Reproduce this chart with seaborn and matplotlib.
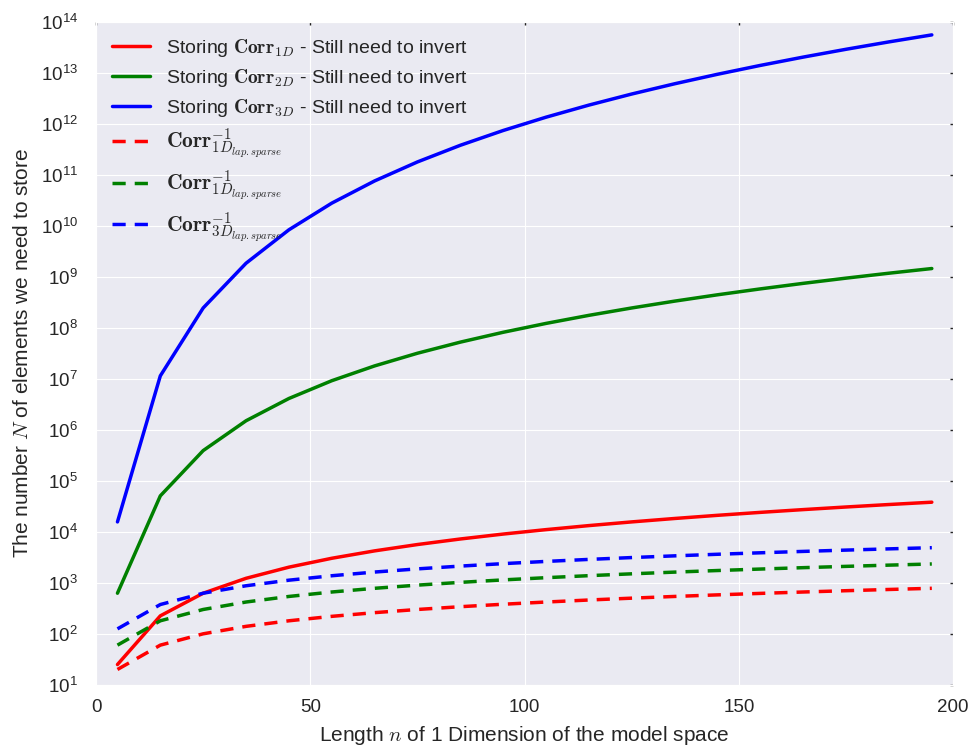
import matplotlib
matplotlib.use("Agg")
import matplotlib.pyplot as plt
import seaborn as sns
import pandas as pd

# Length of one dimension of the model space
n_values = [5, 15, 25, 35, 45, 55, 65, 75, 85, 95, 105, 115, 125, 135, 145,
            155, 165, 175, 185, 195]

# Dense correlation matrices
corr_1d = [25, 225, 625, 1225, 2025, 3025, 4225, 5625, 7225, 9025, 11025,
           13225, 15625, 18225, 21025, 24025, 27225, 30625, 34225, 38025]
corr_2d = [625, 50625, 390625, 1500625, 4100625, 9150625, 17850625, 31640625,
           52200625, 81450625, 121550625, 174900625, 244140625, 332150625,
           442050625, 577200625, 741200625, 937890625, 1171350625, 1445900625]
corr_3d = [1.5625e4, 1.1390625e7, 2.44140625e8, 1.838265625e9, 8.303765625e9,
           2.7680640625e10, 7.5418890625e10, 1.77978515625e11,
           3.77149515625e11, 7.35091890625e11, 1.340095640625e12,
           2.3130e12, 3.8147e12, 6.0535e12, 9.2940e12, 1.3868e13,
           2.0179e13, 2.8723e13, 4.0089e13, 5.4980e13]

# Sparse Laplacian inverses
inv_1d = [20, 60, 100, 140, 180, 220, 260, 300, 340, 380, 420, 460, 500, 540,
          580, 620, 660, 700, 740, 780]
inv_2d = [60, 180, 300, 420, 540, 660, 780, 900, 1020, 1140, 1260, 1380, 1500,
          1620, 1740, 1860, 1980, 2100, 2220, 2340]
inv_3d = [125, 375, 625, 875, 1125, 1375, 1625, 1875, 2125, 2375, 2625, 2875,
          3125, 3375, 3625, 3875, 4125, 4375, 4625, 4875]

labels = [
    r"Storing $\mathbf{Corr}_{1D}$ - Still need to invert",
    r"Storing $\mathbf{Corr}_{2D}$ - Still need to invert",
    r"Storing $\mathbf{Corr}_{3D}$ - Still need to invert",
    r"$\mathbf{Corr}^{-1}_{1D_{lap.sparse}}$",
    r"$\mathbf{Corr}^{-1}_{1D_{lap.sparse}}$",
    r"$\mathbf{Corr}^{-1}_{3D_{lap.sparse}}$",
]
series = [corr_1d, corr_2d, corr_3d, inv_1d, inv_2d, inv_3d]
colors = ["#ff0000", "#008000", "#0000ff", "#ff0000", "#008000", "#0000ff"]
styles = ["-", "-", "-", "--", "--", "--"]
dash_pattern = (3.8, 2.6)  # in units of line width

sns.set_style("darkgrid", {"axes.facecolor": "#EAEAF2",
                           "xtick.direction": "in", "ytick.direction": "in"})
plt.rcParams["font.family"] = ["Liberation Sans", "DejaVu Sans"]
plt.rcParams["mathtext.fontset"] = "cm"

fig = plt.figure(figsize=(9.73, 7.46), dpi=100)
ax = fig.add_axes([0.0987, 0.082, 0.881, 0.889])

for vals, lab, col, ls in zip(series, labels, colors, styles):
    df = pd.DataFrame({"n": n_values, "count": vals})
    sns.lineplot(data=df, x="n", y="count", ax=ax, color=col, linestyle=ls,
                 linewidth=2.5, label=lab)
for line in ax.get_lines():
    if line.get_linestyle() == "--":
        line.set_dashes(dash_pattern)

ax.set_yscale("log")
ax.set_xlim(0, 200)
ax.set_ylim(1e1, 1e14)
ax.set_xticks([0, 50, 100, 150, 200])
ax.set_yticks([10.0 ** k for k in range(1, 15)])
ax.minorticks_off()
ax.tick_params(axis="both", which="major", labelsize=13.5, length=2,
               width=1, color="#222222", top=True, right=True,
               labelcolor="#262626")
ax.tick_params(axis="y", pad=13)
ax.tick_params(axis="x", pad=10)
ax.set_xlabel(r"Length $n$ of 1 Dimension of the model space",
              fontsize=15, color="#262626", labelpad=6)
ax.set_ylabel(r"The number $N$ of elements we need to store",
              fontsize=15, color="#262626", labelpad=6)

leg = ax.legend(loc="upper left", frameon=False, fontsize=14,
                handlelength=2.0, labelspacing=0.4, borderaxespad=0.4)
for i, t in enumerate(leg.get_texts()):
    t.set_color("#262626")
    if i >= 3:
        t.set_fontsize(15.5)
for h in leg.legend_handles:
    if h.get_linestyle() == "--":
        h.set_dashes(dash_pattern)

fig.savefig("out.png", dpi=100)
